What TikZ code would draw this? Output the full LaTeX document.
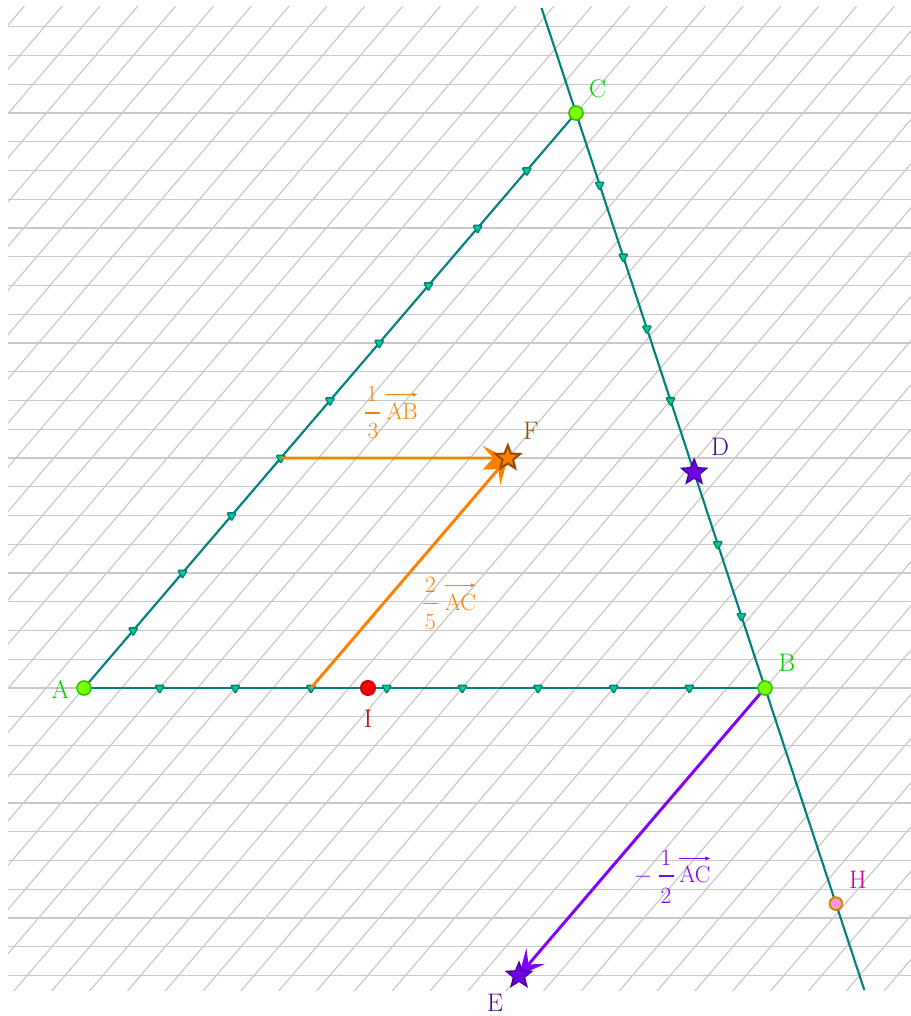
\documentclass[tikz,border=0pt]{standalone}
\usetikzlibrary{calc,shapes.geometric,arrows.meta}
\definecolor{tealc}{RGB}{0,128,128}
\definecolor{gridc}{RGB}{200,200,200}
\definecolor{ptfill}{RGB}{128,255,0}
\definecolor{ptdraw}{RGB}{40,200,0}
\definecolor{lblgreen}{RGB}{0,205,0}
\definecolor{orangec}{RGB}{255,128,0}
\definecolor{brownc}{RGB}{153,76,0}
\definecolor{purplec}{RGB}{127,0,255}
\definecolor{indigoc}{RGB}{76,0,153}
\definecolor{starpurple}{RGB}{110,0,230}
\definecolor{redc}{RGB}{255,0,0}
\definecolor{darkredc}{RGB}{190,0,0}
\definecolor{pinkc}{RGB}{255,150,220}
\definecolor{goldc}{RGB}{204,140,0}
\definecolor{magentac}{RGB}{204,0,153}
\definecolor{tickfill}{RGB}{0,210,130}
\tikzset{
  gridline/.style={gridc, line width=0.9pt},
  tealline/.style={tealc, line width=1.6pt},
  tickmark/.style={regular polygon, regular polygon sides=3, shape border rotate=180,
     draw=tealc, fill=tickfill, line width=1pt, minimum size=8pt, inner sep=0pt, rounded corners=0.8pt},
  ptgreen/.style={circle, draw=ptdraw, fill=ptfill, line width=1.2pt, minimum size=10.5pt, inner sep=0pt},
  ptred/.style={circle, draw=darkredc, fill=redc, line width=1pt, minimum size=11pt, inner sep=0pt},
  ptpink/.style={circle, draw=goldc, fill=pinkc, line width=1.5pt, minimum size=9.5pt, inner sep=0pt},
  starpurple/.style={star, star points=5, star point ratio=2.3, draw=indigoc, fill=starpurple, line width=1pt, minimum size=20pt, inner sep=0pt},
  starorange/.style={star, star points=5, star point ratio=2.3, draw=brownc, fill=orangec, line width=1.6pt, minimum size=19pt, inner sep=0pt},
  vecarrow/.style={line width=2.2pt, -{Stealth[length=19pt, width=18pt, inset=8pt]}},
  lbl/.style={font=\fontsize{19}{23}\selectfont, inner sep=0pt},
  vlbl/.style={font=\fontsize{17.5}{21}\selectfont, inner sep=0pt},
  fracbar/.style={line width=1.1pt},
  overarrow/.style={line width=0.8pt, -{Latex[length=4pt, width=3.2pt]}},
}
\begin{document}
\begin{tikzpicture}[x=0.75pt, y=-0.75pt]
\useasboundingbox (0,0) rectangle (910,1016);
% background grid
\begin{scope}
  \clip (8,7) rectangle (915,990);
  \foreach \k in {-23,...,10} {
    \draw[gridline] (8,{688+28.75*\k}) -- (915,{688+28.75*\k});
  }
  \foreach \i in {-17,...,28} {
    \draw[gridline] ({-186.6+37.8333*\i},1004.25) -- ({674.4+37.8333*\i},-2);
  }
\end{scope}
% main points
\coordinate (Ac) at (84,688);
\coordinate (Bc) at (765,688);
\coordinate (Cc) at (576,113);
\coordinate (Ltop) at (541.5,8);
\coordinate (Lbot) at (864.3,990);
\coordinate (Fc) at (507.8,458);
\coordinate (Ec) at (519,975.5);
\coordinate (P1) at ($(Ac)!0.4!(Cc)$);
\coordinate (P2) at ($(Ac)!{1/3}!(Bc)$);
% segments
\draw[tealline] (Ac) -- (Cc);
\draw[tealline] (Ac) -- (Bc);
\draw[tealline] (Ltop) -- (Lbot);
% ticks
\foreach \k in {1,...,9} { \node[tickmark] (tAC\k) at ($(Ac)!\k/10!(Cc)$) {}; }
\foreach \k in {1,...,8} { \node[tickmark] (tAB\k) at ($(Ac)!\k/9!(Bc)$) {}; }
\foreach \k in {1,...,7} { \node[tickmark] (tCB\k) at ($(Cc)!\k/8!(Bc)$) {}; }
% vectors
\draw[vecarrow, orangec] (P1) -- (Fc);
\draw[vecarrow, orangec] (P2) -- (Fc);
\draw[vecarrow, purplec] (Bc) -- (Ec);
% points
\node[ptgreen] (A) at (Ac) {};
\node[ptgreen] (B) at (Bc) {};
\node[ptgreen] (C) at (Cc) {};
\node[ptred] (I) at (368,688) {};
\node[ptpink] (H) at ($(Bc)!-0.375!(Cc)$) {};
\node[starpurple] (D) at ($(Cc)!0.625!(Bc)$) {};
\node[starpurple] (E) at (Ec) {};
\node[starorange] (F) at (Fc) {};
% point labels
\node[lbl, text=lblgreen] (lA) at (60.5,690) {A};
\node[lbl, text=lblgreen] (lB) at (787,663) {B};
\node[lbl, text=lblgreen] (lC) at (597.5,89) {C};
\node[lbl, text=indigoc] (lD) at (720,446.5) {D};
\node[lbl, text=indigoc] (lE) at (495,1003) {E};
\node[lbl, text=brownc] (lF) at (531,431) {F};
\node[lbl, text=darkredc] (lI) at (368,718.5) {I};
\node[lbl, text=magentac] (lH) at (858,880) {H};
% vector label 1/3 AB
\begin{scope}[orangec]
  \node[vlbl, text=orangec, anchor=base] (n1) at (372,401.5) {1};
  \node[vlbl, text=orangec, anchor=base] (d1) at (373,438.5) {3};
  \coordinate (b1l) at (365,413);
  \coordinate (b1r) at (380,413);
  \draw[fracbar] (b1l) -- (b1r);
  \node[vlbl, text=orangec, anchor=base west] (v1) at (386,419.5) {AB};
  \draw[overarrow] ([yshift=6pt]v1.north west) -- ([yshift=6pt]v1.north east);
\end{scope}
% vector label 2/5 AC
\begin{scope}[orangec]
  \node[vlbl, text=orangec, anchor=base] (n2) at (430.5,592.5) {2};
  \node[vlbl, text=orangec, anchor=base] (d2) at (430.5,629.5) {5};
  \coordinate (b2l) at (423,603.3);
  \coordinate (b2r) at (438,603.3);
  \draw[fracbar] (b2l) -- (b2r);
  \node[vlbl, text=orangec, anchor=base west] (v2) at (444.5,610) {AC};
  \draw[overarrow] ([yshift=6pt]v2.north west) -- ([yshift=6pt]v2.north east);
\end{scope}
% vector label -1/2 AC
\begin{scope}[purplec]
  \node[vlbl, text=purplec, anchor=base] (m3) at (643,882.5) {$-$};
  \node[vlbl, text=purplec, anchor=base] (n3) at (666,865) {1};
  \node[vlbl, text=purplec, anchor=base] (d3) at (666,903.5) {2};
  \coordinate (b3l) at (658.5,876);
  \coordinate (b3r) at (673.5,876);
  \draw[fracbar] (b3l) -- (b3r);
  \node[vlbl, text=purplec, anchor=base west] (v3) at (679,882.5) {AC};
  \draw[overarrow] ([yshift=5.5pt]v3.north west) -- ([yshift=5.5pt]v3.north east);
\end{scope}
\end{tikzpicture}
\end{document}
